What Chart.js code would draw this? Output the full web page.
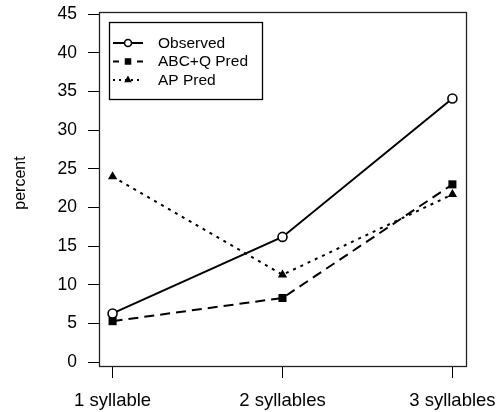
<!DOCTYPE html>
<html>
<head>
<meta charset="utf-8">
<script src="https://cdn.jsdelivr.net/npm/chart.js@4/dist/chart.umd.min.js"></script>
<style>
  body { margin: 0; background: #fff; }
  canvas { display: block; }
</style>
</head>
<body>
<canvas id="syllableChart" width="499" height="412"></canvas>
<script>
// Chart data
const categories = ['1 syllable', '2 syllables', '3 syllables'];
const observed = [6.3, 16.2, 34.1];
const abcqPred = [5.3, 8.3, 23.0];
const apPred = [24.0, 11.3, 21.7];
const yTicks = [0, 5, 10, 15, 20, 25, 30, 35, 40, 45];

const FONT = '"Liberation Sans", Arial, Helvetica, sans-serif';

function toPoints(values) {
    return values.map((v, i) => ({ x: i + 1, y: v }));
}

// no extra room for overflowing tick labels, the layout padding decides
function noScalePadding(scale) {
    scale.paddingLeft = 0;
    scale.paddingRight = 0;
    scale.paddingTop = 0;
    scale.paddingBottom = 0;
}

// Box around the plot, legend and y title (base graphics look)
const framePlugin = {
    id: 'frame',
    afterDraw(chart) {
        const ctx = chart.ctx;
        const a = chart.chartArea;
        ctx.save();

        // plot box
        ctx.strokeStyle = '#222';
        ctx.lineWidth = 1.3;
        ctx.strokeRect(Math.round(a.left) + 0.5, Math.round(a.top) + 0.5,
            Math.round(a.right - a.left), Math.round(a.bottom - a.top));

        // legend
        const lx = 109.5, ly = 22.5, lw = 153, lh = 77;
        ctx.fillStyle = '#fff';
        ctx.fillRect(lx, ly, lw, lh);
        ctx.strokeStyle = '#000';
        ctx.lineWidth = 1.3;
        ctx.strokeRect(lx, ly, lw, lh);

        const rows = [43, 61.5, 80];
        ctx.font = '15.5px ' + FONT;
        ctx.textBaseline = 'middle';
        ctx.textAlign = 'left';
        chart.data.datasets.forEach((ds, i) => {
            const y = rows[i];
            ctx.save();
            ctx.strokeStyle = '#000';
            ctx.lineWidth = ds.borderWidth;
            ctx.setLineDash(ds.legendDash || []);
            ctx.beginPath();
            ctx.moveTo(113, y);
            ctx.lineTo(143, y);
            ctx.stroke();
            ctx.restore();

            ctx.save();
            ctx.fillStyle = ds.pointBackgroundColor;
            ctx.strokeStyle = ds.pointBorderColor;
            ctx.lineWidth = ds.pointBorderWidth;
            Chart.helpers.drawPoint(ctx, {
                pointStyle: ds.pointStyle,
                radius: ds.legendRadius,
                borderWidth: ds.pointBorderWidth,
                rotation: 0
            }, 128, y);
            ctx.restore();

            ctx.fillStyle = '#000';
            ctx.fillText(ds.label, 158, y + 0.5);
        });

        // y axis title
        ctx.save();
        ctx.translate(25, 183);
        ctx.rotate(-Math.PI / 2);
        ctx.font = '16px ' + FONT;
        ctx.textAlign = 'center';
        ctx.textBaseline = 'alphabetic';
        ctx.fillStyle = '#000';
        ctx.fillText('percent', 0, 0);
        ctx.restore();

        ctx.restore();
    }
};

const ctx = document.getElementById('syllableChart');
new Chart(ctx, {
    type: 'line',
    data: {
        datasets: [
            {
                label: 'Observed',
                data: toPoints(observed),
                borderColor: '#000',
                borderWidth: 2,
                pointStyle: 'circle',
                pointRadius: 4.5,
                legendRadius: 3.5,
                pointBackgroundColor: '#fff',
                pointBorderColor: '#000',
                pointBorderWidth: 1.6,
                tension: 0
            },
            {
                label: 'ABC+Q Pred',
                data: toPoints(abcqPred),
                borderColor: '#000',
                borderWidth: 2,
                borderDash: [10, 6],
                legendDash: [6, 18],
                pointStyle: 'rect',
                pointRadius: 5.7,
                legendRadius: 4.6,
                pointBackgroundColor: '#000',
                pointBorderColor: '#000',
                pointBorderWidth: 0,
                tension: 0
            },
            {
                label: 'AP Pred',
                data: toPoints(apPred),
                borderColor: '#000',
                borderWidth: 2,
                borderDash: [3, 5],
                legendDash: [2, 4],
                pointStyle: 'triangle',
                pointRadius: 5.4,
                legendRadius: 4.4,
                pointBackgroundColor: '#000',
                pointBorderColor: '#000',
                pointBorderWidth: 0,
                tension: 0
            }
        ]
    },
    options: {
        responsive: false,
        animation: false,
        layout: {
            padding: { top: 12, right: 33, left: 0, bottom: 0 }
        },
        plugins: {
            legend: { display: false },
            tooltip: { enabled: false }
        },
        scales: {
            x: {
                type: 'linear',
                min: 0.92,
                max: 3.08,
                afterBuildTicks: function(scale) {
                    scale.ticks = categories.map((c, i) => ({ value: i + 1 }));
                },
                afterFit: function(scale) {
                    scale.height = 46;
                    noScalePadding(scale);
                },
                grid: {
                    drawOnChartArea: false,
                    drawTicks: true,
                    tickLength: 12,
                    color: '#000',
                    lineWidth: 1
                },
                border: { display: false },
                ticks: {
                    padding: 12,
                    maxRotation: 0,
                    autoSkip: false,
                    color: '#000',
                    font: { family: FONT, size: 18.5 },
                    callback: function(value) {
                        return categories[value - 1];
                    }
                }
            },
            y: {
                min: -0.5,
                max: 45.3,
                afterBuildTicks: function(scale) {
                    scale.ticks = yTicks.map(v => ({ value: v }));
                },
                afterFit: function(scale) {
                    scale.width = 99;
                    noScalePadding(scale);
                },
                grid: {
                    drawOnChartArea: false,
                    drawTicks: true,
                    tickLength: 11,
                    color: '#000',
                    lineWidth: 1
                },
                border: { display: false },
                ticks: {
                    padding: 11,
                    color: '#000',
                    font: { family: FONT, size: 17.5 }
                }
            }
        }
    },
    plugins: [framePlugin]
});
</script>
</body>
</html>
